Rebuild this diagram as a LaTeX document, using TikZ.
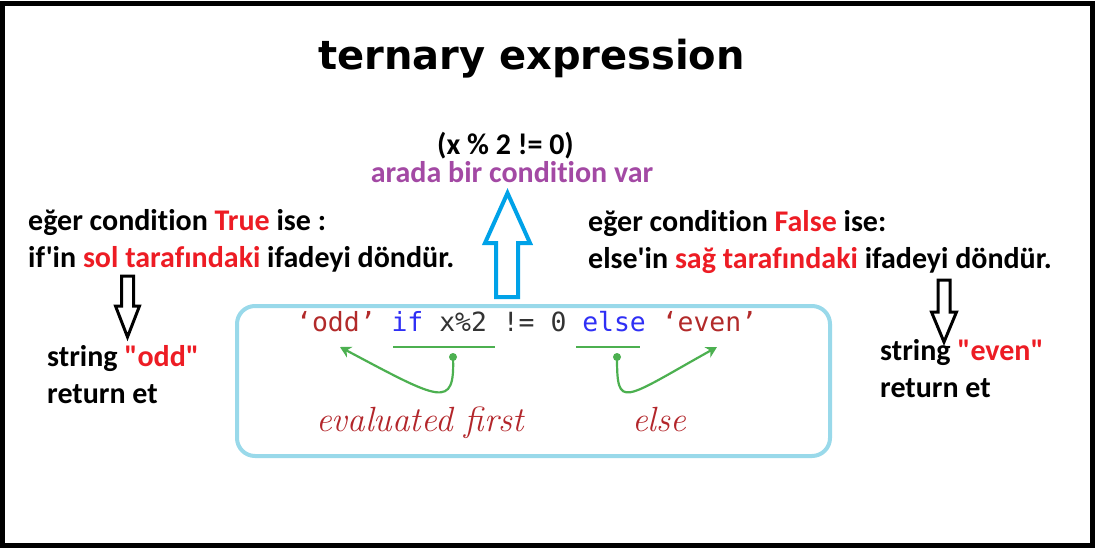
\documentclass[tikz,border=0pt]{standalone}
\usepackage{fontspec}
\newfontfamily\bodyfont{Carlito}[Ligatures=NoCommon]
\newfontfamily\titlefont{DejaVu Sans}
\newfontfamily\codefont{DejaVu Sans Mono}
\newfontfamily\handfont{Latin Modern Roman}
\usetikzlibrary{arrows.meta,positioning}
\definecolor{hotred}{HTML}{ED1C24}
\definecolor{condc}{HTML}{A349A4}
\definecolor{upc}{HTML}{00A2E8}
\definecolor{boxc}{HTML}{99D9EA}
\definecolor{strc}{HTML}{B22A2A}
\definecolor{kwc}{HTML}{2F2FF5}
\definecolor{codec}{HTML}{333333}
\definecolor{markc}{HTML}{4CB050}
\definecolor{notec}{HTML}{B3262B}
\tikzset{
  say/.style    ={anchor=base west,inner sep=0pt,font=\bodyfont\fontsize{30}{36}\selectfont\bfseries},
  hollow/.style ={line width=3pt,line join=miter},
  codebox/.style={draw=boxc,line width=4pt,rounded corners=18pt,minimum width=593pt,
                  minimum height=150pt},
  underl/.style ={markc,line width=1.6pt},
  curl/.style   ={markc,line width=2.2pt,-{Stealth[length=11pt,width=12pt]}},
  hand/.style   ={anchor=base west,inner sep=0pt,notec,
                  font=\handfont\itshape\fontsize{35}{40}\selectfont},
}

\begin{document}
\begin{tikzpicture}[x=1pt,y=-1pt]
    \fill[white] (0,0) rectangle (1102,554);
    \useasboundingbox (0,0) rectangle (1102,554);
    \draw[line width=5pt] (2.5,3.5) rectangle (1092.5,545.5);

    % title and condition
    \node[anchor=base,inner sep=0pt,font=\titlefont\bfseries\fontsize{40}{48}\selectfont]
      (title) at (531.5,69) {ternary expression};
    \node[anchor=base,inner sep=0pt,font=\bodyfont\fontsize{30}{36}\selectfont\bfseries]
      (cond) at (505.5,154) {(x \% 2 != 0)};
    \node[anchor=base,inner sep=0pt,condc,font=\bodyfont\fontsize{30}{36}\selectfont\bfseries]
      (condnote) at (512,182) {arada bir condition var};

    % left side
    \node[say] (trueA) at (28,230.7) {eğer condition {\color{hotred}True} ise :};
    \node[say] (trueB) at (28,267.5) {if'in {\color{hotred}sol tarafındaki} ifadeyi döndür.};
    \node[say] (oddA)  at (47,366.5) {string {\color{hotred}"odd"}};
    \node[say] (oddB)  at (47,403)   {return et};
    % right side
    \node[say] (falseA) at (588,231.7) {eğer condition {\color{hotred}False} ise:};
    \node[say] (falseB) at (588,268.5) {else'in {\color{hotred}sağ tarafındaki} ifadeyi döndür.};
    \node[say] (evenA)  at (880,360)   {string {\color{hotred}"even"}};
    \node[say] (evenB)  at (880,397)   {return et};

    % hollow arrows
    \draw[hollow,upc,line width=4pt] (507.5,193) -- (530,243) -- (518,243) -- (518,297)
      -- (496,297) -- (496,243) -- (485,243) -- cycle;
    \draw[hollow] (121.5,276) -- (133.5,276) -- (133.5,306) -- (139.5,306) -- (127.5,337)
      -- (115.5,306) -- (121.5,306) -- cycle;
    \draw[hollow] (938,280) -- (950,280) -- (950,312) -- (956.5,312) -- (944,342)
      -- (931.5,312) -- (938,312) -- cycle;

    % code box
    \node[codebox] (box) at (533.5,381) {};
    \node[anchor=base west,inner sep=0pt,codec,font=\codefont\fontsize{26.4}{30}\selectfont]
      (code) at (296,331) {{\color{strc}‘odd’} {\color{kwc}if} x\%2 != 0 {\color{kwc}else} {\color{strc}‘even’}};
    \draw[underl] (393,347) -- (495,347);
    \draw[underl] (576,347) -- (640,347);
    \coordinate (ifdot)   at (453,357);
    \coordinate (elsedot) at (617,357);
    \coordinate (oddtip)  at (340,347);
    \coordinate (eventip) at (717,347);
    \fill[markc] (ifdot) circle (4pt);
    \fill[markc] (elsedot) circle (4pt);
    \draw[curl] (ifdot) .. controls (455,410) and (440,400) .. (oddtip);
    \draw[curl] (elsedot) .. controls (617,410) and (622,400) .. (eventip);
    \node[hand] (firstnote) at (316,431.5) {evaluated first};
    \node[hand] (elsenote)  at (632,431.5) {else};
\end{tikzpicture}
\end{document}
